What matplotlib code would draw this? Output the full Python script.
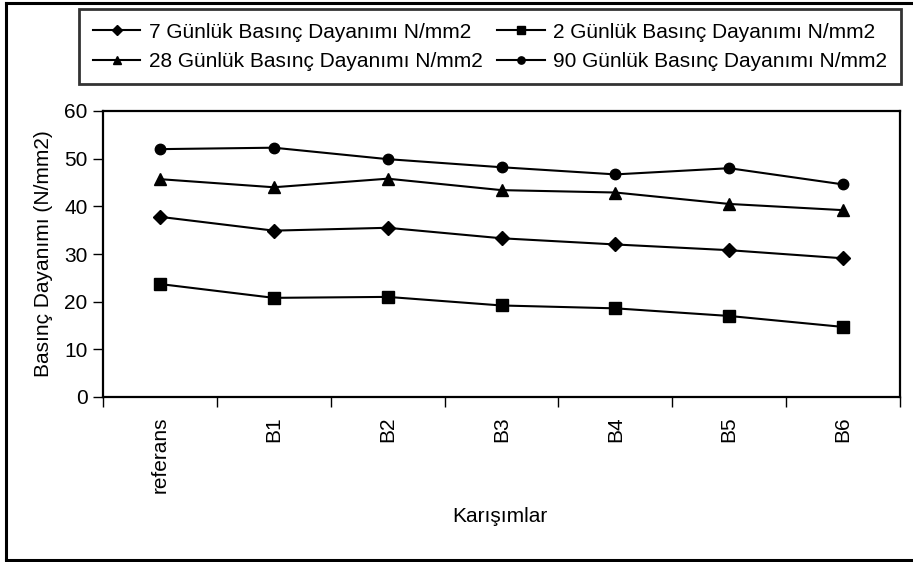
import numpy as np
import matplotlib
matplotlib.use("Agg")
import matplotlib.pyplot as plt
from matplotlib.lines import Line2D

plt.rcParams['font.family'] = ['Liberation Sans', 'DejaVu Sans']

karisimlar = ['referans', 'B1', 'B2', 'B3', 'B4', 'B5', 'B6']
gun_7  = [37.8, 34.9, 35.5, 33.3, 32.0, 30.8, 29.1]
gun_2  = [23.7, 20.8, 21.0, 19.2, 18.6, 17.0, 14.7]
gun_28 = [45.7, 44.0, 45.8, 43.4, 42.9, 40.5, 39.2]
gun_90 = [52.0, 52.3, 49.9, 48.2, 46.7, 48.0, 44.6]

fs = 15

fig = plt.figure(figsize=(9.13, 5.62), dpi=100)
ax = fig.add_axes([103/913, 1 - 397/562, 797/913, 286/562])

x = np.arange(len(karisimlar)) + 0.5
l7, = ax.plot(x, gun_7, color='black', lw=1.5, marker='D', ms=7.5, label='7 Günlük Basınç Dayanımı N/mm2')
l2, = ax.plot(x, gun_2, color='black', lw=1.5, marker='s', ms=9, label='2 Günlük Basınç Dayanımı N/mm2')
l28, = ax.plot(x, gun_28, color='black', lw=1.5, marker='^', ms=9, label='28 Günlük Basınç Dayanımı N/mm2')
l90, = ax.plot(x, gun_90, color='black', lw=1.5, marker='o', ms=7.5, label='90 Günlük Basınç Dayanımı N/mm2')

ax.set_xlim(0, len(karisimlar))
ax.set_ylim(0, 60)
ax.set_yticks(np.arange(0, 61, 10))
ax.set_xticks(np.arange(0, len(karisimlar) + 1))
ax.set_xticklabels([])
ax.set_xticks(x, minor=True)
ax.set_xticklabels(karisimlar, minor=True, rotation=90, va='top', ha='center')
ax.tick_params(axis='x', which='minor', length=0, pad=14, labelsize=fs)
ax.tick_params(axis='x', which='major', direction='out', length=7, width=1)
ax.tick_params(axis='y', direction='out', length=7, width=1, labelsize=fs, pad=4)
for s in ax.spines.values():
    s.set_linewidth(1.6)

ax.set_ylabel('Basınç Dayanımı (N/mm2)', fontsize=fs, labelpad=8)
fig.text(500/913, 1 - 517/562, 'Karışımlar', fontsize=fs, ha='center', va='center')

leg = fig.legend(handles=[l7, l28, l2, l90], ncol=2, loc='upper left',
                 bbox_to_anchor=(79/913, 1 - 9/562), fontsize=fs,
                 frameon=True, fancybox=False, edgecolor='black',
                 handlelength=2.3, handletextpad=0.4, columnspacing=0.7,
                 borderpad=0.65, labelspacing=0.5, borderaxespad=0,
                 markerscale=0.7)
leg.get_frame().set_linewidth(2)

# outer frame around the chart (left, top, bottom)
for xs, ys in [([6/913, 6/913], [3/562, 1 - 3/562]),
               ([6/913, 1], [1 - 3/562, 1 - 3/562]),
               ([6/913, 1], [2/562, 2/562])]:
    fig.add_artist(Line2D(xs, ys, color='black', lw=2.2, transform=fig.transFigure))

fig.savefig('out.png', dpi=100)
